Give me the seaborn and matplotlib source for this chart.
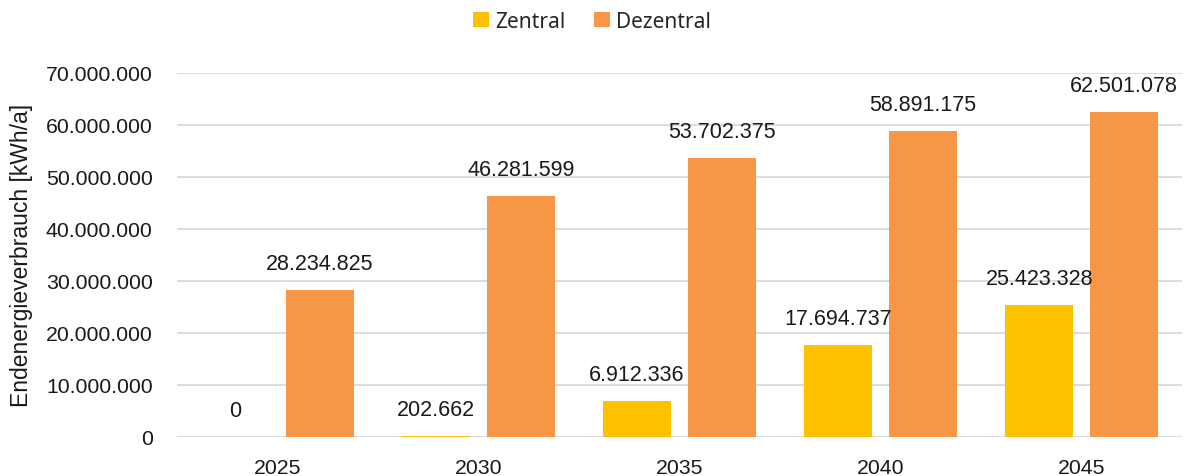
import matplotlib
matplotlib.use("Agg")
import matplotlib.pyplot as plt
import matplotlib.ticker as mticker
from matplotlib.patches import Patch
import seaborn as sns
import pandas as pd

years = ["2025", "2030", "2035", "2040", "2045"]
zentral = [0, 202662, 6912336, 17694737, 25423328]
dezentral = [28234825, 46281599, 53702375, 58891175, 62501078]
series_names = ["Zentral", "Dezentral"]
colors = ["#FFC000", "#F79646"]


def de_fmt(v):
    return f"{int(round(v)):,}".replace(",", ".")


df = pd.DataFrame({
    "Jahr": years * 2,
    "Wert": zentral + dezentral,
    "Serie": [series_names[0]] * len(years) + [series_names[1]] * len(years),
})

sns.set_theme(style="white")
plt.rcParams["font.family"] = ["Liberation Sans", "DejaVu Sans"]

fig = plt.figure(figsize=(11.84, 4.77), dpi=100)
ax = fig.add_axes([0.1495, 0.082, 0.849, 0.763])

sns.barplot(data=df, x="Jahr", y="Wert", hue="Serie", palette=colors,
            width=0.846, gap=0.2, ax=ax, legend=False, saturation=1,
            errorbar=None, linewidth=0)

ax.set_ylim(0, 70_000_000)
ax.set_xlim(-0.5, len(years) - 0.5)
ax.yaxis.set_major_locator(mticker.MultipleLocator(10_000_000))
ax.yaxis.set_major_formatter(mticker.FuncFormatter(lambda v, p: de_fmt(v)))
ax.grid(axis="y", color="#d9d9d9", linewidth=1.3)
ax.set_axisbelow(True)
for s in ax.spines.values():
    s.set_visible(False)
ax.tick_params(axis="both", length=0, labelsize=15.3, colors="#1a1a1a")
ax.tick_params(axis="y", pad=17.5)
ax.tick_params(axis="x", pad=15)
ax.set_xlabel("")
ax.set_ylabel("Endenergieverbrauch [kWh/a]", fontsize=16.5, color="#1a1a1a", labelpad=9)

for container, vals in zip(ax.containers, [zentral, dezentral]):
    for bar, v in zip(container, vals):
        cx = bar.get_x() + bar.get_width() / 2
        ax.annotate(de_fmt(v), (cx, bar.get_height()), xytext=(0, 11.5),
                    textcoords="offset points", ha="center", va="bottom",
                    fontsize=15.5, color="#1a1a1a")

handles = [Patch(facecolor=c, edgecolor="none") for c in colors]
fig.legend(handles, series_names, loc="upper center", bbox_to_anchor=(0.5, 1.014),
           ncol=2, frameon=False, handlelength=0.75, handleheight=0.75,
           handletextpad=0.3, columnspacing=1.4,
           prop={"family": "Noto Sans", "size": 15})

fig.savefig("out.png", dpi=100)
